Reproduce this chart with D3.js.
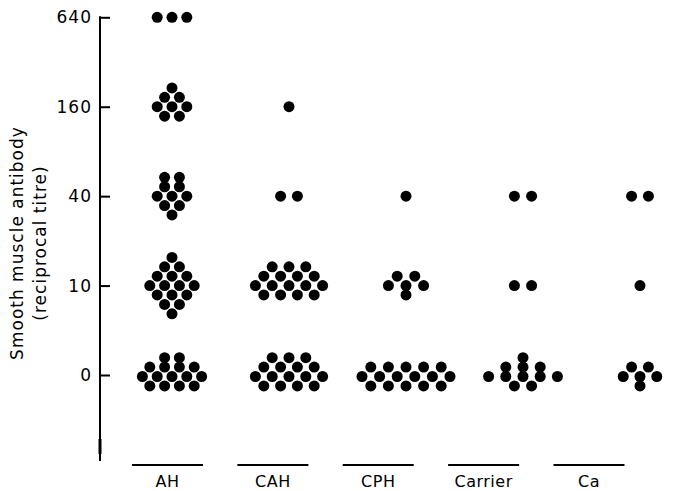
<!DOCTYPE html>
<html>
<head>
<meta charset="utf-8">
<script src="https://cdn.jsdelivr.net/npm/d3@7"></script>
<style>
  body { margin: 0; background: #fff; }
  text { font-family: "DejaVu Sans", sans-serif; fill: #000; }
</style>
</head>
<body>
<script>
// groups along the x axis and titre levels on the y axis
const GROUPS = ["AH", "CAH", "CPH", "Carrier", "Ca"];
const TITRES = ["640", "160", "40", "10", "0"];

// number of patients at each titre (same order as TITRES)
const AH_COUNTS = [3, 8, 10, 16, 15];
const CAH_COUNTS = [0, 1, 2, 16, 16];
const CPH_COUNTS = [0, 0, 1, 6, 16];
const CARRIER_COUNTS = [0, 0, 2, 2, 11];
const CA_COUNTS = [0, 0, 2, 1, 6];

const COUNTS = {
  AH: AH_COUNTS,
  CAH: CAH_COUNTS,
  CPH: CPH_COUNTS,
  Carrier: CARRIER_COUNTS,
  Ca: CA_COUNTS,
};

// how the dots of one cluster are stacked: each string is a row on a
// half-step grid (11 slots, middle slot = cluster centre), top = first row index
const SWARM = {
  "AH|640": { top: 0, rows: ["...x.x.x..."] },
  "AH|160": { top: -2, rows: [".....x.....", "....x.x....", "...x.x.x...", "....x.x...."] },
  "AH|40": { top: -2, rows: ["....x.x....", "....x.x....", "...x.x.x...", "....x.x....", ".....x....."] },
  "AH|10": {
    top: -3,
    rows: [".....x.....", "....x.x....", "...x.x.x...", "..x.x.x.x..", "...x.x.x...", "....x.x....", ".....x....."],
  },
  "AH|0": { top: -2, rows: ["....x.x....", "..x.x.x.x..", ".x.x.x.x.x.", "..x.x.x.x.."] },
  "CAH|160": { top: 0, rows: [".....x....."] },
  "CAH|40": { top: 0, rows: ["....x.x...."] },
  "CAH|10": { top: -2, rows: ["...x.x.x...", "..x.x.x.x..", ".x.x.x.x.x.", "..x.x.x.x.."] },
  "CAH|0": { top: -2, rows: ["...x.x.x...", "..x.x.x.x..", ".x.x.x.x.x.", "..x.x.x.x.."] },
  "CPH|40": { top: 0, rows: [".....x....."] },
  "CPH|10": { top: -1, rows: ["....x.x....", "...x.x.x...", ".....x....."] },
  "CPH|0": { top: -1, rows: [".x.x.x.x.x.", "x.x.x.x.x.x", ".x.x.x.x.x."] },
  "Carrier|40": { top: 0, rows: ["....x.x...."] },
  "Carrier|10": { top: 0, rows: ["....x.x...."] },
  "Carrier|0": { top: -2, rows: [".....x.....", "...x.x.x...", ".x.x.x.x.x.", "....x.x...."] },
  "Ca|40": { top: 0, rows: ["....x.x...."] },
  "Ca|10": { top: 0, rows: [".....x....."] },
  "Ca|0": { top: -1, rows: ["....x.x....", "...x.x.x...", ".....x....."] },
};

// chart dimensions
const WIDTH = 674;
const HEIGHT = 491;
const AXIS_X = 100;
const AXIS_BOTTOM = 461;
const DOT_R = 5.5;
const ROW_STEP = 9.4;
const HALF_STEP = { AH: 7.4, CAH: 8.4, CPH: 8.8, Carrier: 8.6, Ca: 8.4 };

const svg = d3
  .select("body")
  .append("svg")
  .attr("width", WIDTH)
  .attr("height", HEIGHT);

// y scale: one evenly spaced slot per titre
const y = d3.scalePoint().domain(TITRES).range([17.3, 375]);

// dots and labels sit on slightly different spacings in the original figure
const xDots = d3.scalePoint().domain(GROUPS).range([172, 640]);
const xLabels = d3.scalePoint().domain(GROUPS).range([167.5, 589]);

// y axis
const yAxis = svg
  .append("g")
  .attr("transform", `translate(${AXIS_X},0)`)
  .call(d3.axisLeft(y).tickSize(-10).tickSizeOuter(0).tickPadding(8));

yAxis.select(".domain").remove();
yAxis.selectAll(".tick line").attr("stroke", "#000").attr("stroke-width", 2);
yAxis
  .selectAll(".tick text")
  .style("font-size", "17px")
  .style("letter-spacing", "1px")
  .attr("fill", "#000");

svg
  .append("line")
  .attr("x1", AXIS_X)
  .attr("x2", AXIS_X)
  .attr("y1", y("640") - 1)
  .attr("y2", AXIS_BOTTOM)
  .attr("stroke", "#000")
  .attr("stroke-width", 2);

// small thick stretch near the foot of the axis
svg
  .append("line")
  .attr("x1", AXIS_X)
  .attr("x2", AXIS_X)
  .attr("y1", AXIS_BOTTOM - 22)
  .attr("y2", AXIS_BOTTOM - 7)
  .attr("stroke", "#000")
  .attr("stroke-width", 3);

// y axis title, two lines
const titleLines = ["Smooth muscle antibody", "(reciprocal titre)"];
svg
  .selectAll(".ytitle")
  .data(titleLines)
  .enter()
  .append("text")
  .attr("class", "ytitle")
  .attr("transform", (d, i) => `translate(${17 + i * 23},243) rotate(-90)`)
  .attr("text-anchor", "middle")
  .attr("dominant-baseline", "central")
  .style("font-size", "17px")
  .style("letter-spacing", "1px")
  .text((d) => d);

// build dot positions from counts and the stacking pattern
const dots = [];
GROUPS.forEach((group) => {
  TITRES.forEach((titre, ti) => {
    const count = COUNTS[group][ti];
    if (!count) return;
    const pattern = SWARM[`${group}|${titre}`];
    let placed = 0;
    pattern.rows.forEach((row, ri) => {
      row.split("").forEach((ch, ci) => {
        if (ch !== "x" || placed >= count) return;
        placed += 1;
        dots.push({
          group,
          titre,
          col: ci - 5,
          row: pattern.top + ri,
        });
      });
    });
  });
});

svg
  .append("g")
  .selectAll("circle")
  .data(dots)
  .enter()
  .append("circle")
  .attr("cx", (d) => xDots(d.group) + d.col * HALF_STEP[d.group])
  .attr("cy", (d) => y(d.titre) + d.row * ROW_STEP + (d.titre === "0" ? 1.5 : 0))
  .attr("r", DOT_R)
  .attr("fill", "#000");

// group underlines and labels
const groupG = svg
  .append("g")
  .selectAll("g")
  .data(GROUPS)
  .enter()
  .append("g")
  .attr("transform", (d) => `translate(${xLabels(d)},0)`);

groupG
  .append("line")
  .attr("x1", -35.5)
  .attr("x2", 35.5)
  .attr("y1", 465)
  .attr("y2", 465)
  .attr("stroke", "#000")
  .attr("stroke-width", 2);

groupG
  .append("text")
  .attr("y", 487)
  .attr("text-anchor", "middle")
  .style("font-size", "16px")
  .style("letter-spacing", "0.5px")
  .text((d) => d);
</script>
</body>
</html>
